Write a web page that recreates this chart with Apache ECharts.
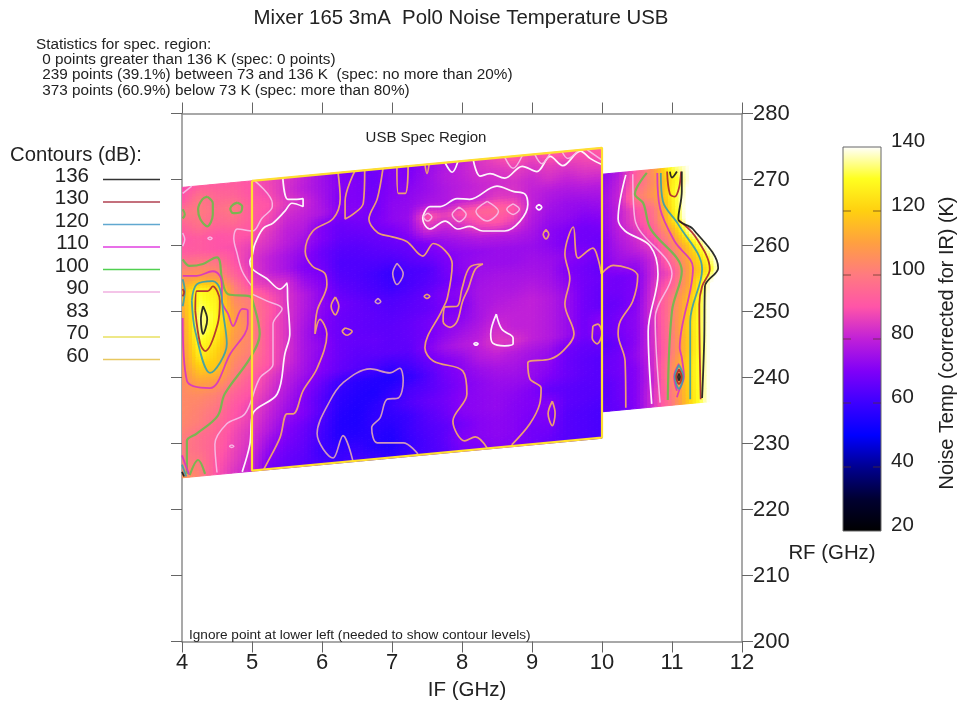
<!DOCTYPE html>
<html><head><meta charset="utf-8"><style>html,body{margin:0;background:#fff}#c{width:961px;height:702px}</style>
<script src="https://cdn.jsdelivr.net/npm/echarts@6/dist/echarts.min.js"></script></head>
<body><div id="c"></div><script>
const FONT='"Liberation Sans",Arial,sans-serif';
const ifLeft=[4,4.25,4.5,4.75,5,5.25,5.5,5.75,6,6.25,6.5,6.75,7,7.25,7.5,7.75,8,8.25,8.5,8.75,9,9.25,9.5,9.75,10];
const loLeft=[264.8,262.8,260.8,258.8,256.8,254.8,252.8,250.8,248.8,246.8,244.8,242.8,240.8,238.8,236.8,234.8,232.8,230.8,228.8,226.8,224.8,222.8,220.8];
const tempLeft=[
[88,92,92,92,90,87,84,80,75,70,69,68,71,69,73,77,80,84,88,92,88,92,92,90,93],
[90,99,95,94,90,88,83,79,75,71,70,67,71,70,74,78,80,83,84,86,84,86,85,87,88],
[99,100,97,100,92,90,85,82,76,70,70,68,71,72,74,77,79,81,82,83,81,83,81,83,83],
[93,98,95,96,92,88,82,80,77,71,71,68,72,73,76,77,80,81,85,84,80,78,77,78,78],
[90,92,90,91,90,85,80,78,70,67,68,69,72,74,91,86,91,94,95,91,80,76,74,74,75],
[92,92,90,89,86,83,79,75,70,66,66,67,68,72,83,80,83,88,90,86,78,74,73,71,72],
[100,101,99,90,84,80,76,72,67,64,64,65,66,67,70,74,76,78,78,78,76,72,70,68,69],
[108,110,106,94,85,80,76,70,68,63,63,63,63,65,67,70,72,73,74,74,74,72,69,68,67],
[116,130,125,102,88,85,83,74,70,64,63,61,59,62,63,68,72,74,74,74,75,74,72,70,68],
[112,132,128,105,100,90,84,78,72,66,64,62,60,62,64,67,70,75,76,76,76,75,70,68,66],
[108,136,129,109,100,92,84,78,72,68,66,64,63,64,66,70,72,76,77,77,78,76,72,68,67],
[106,135,128,110,103,90,84,77,71,67,66,65,64,65,66,69,70,76,78,79,80,78,74,68,66],
[106,130,124,108,102,90,84,76,70,67,66,65,65,66,68,71,72,76,80,80,80,78,74,68,66],
[105,126,120,106,101,90,84,76,72,67,66,66,65,66,68,72,75,78,83,80,80,78,74,68,71],
[105,118,118,103,97,90,83,76,71,67,65,65,65,65,70,75,78,80,85,84,80,78,74,68,71],
[104,110,109,100,92,86,80,75,70,66,64,62,60,62,66,70,73,78,80,78,76,74,68,66,66],
[104,104,102,94,90,84,78,72,66,60,57,56,55,58,63,68,71,74,76,76,74,72,67,65,64],
[104,102,99,91,87,82,76,70,64,58,56,55,58,62,64,67,70,72,74,74,73,70,67,65,64],
[103,101,96,90,86,80,74,70,64,57,55,57,60,63,66,68,71,72,73,72,70,66,65,64,64],
[101,97,94,88,84,78,71,67,62,56,55,58,58,60,64,67,71,72,73,71,70,71,65,64,63],
[100,97,93,87,83,74,69,66,61,56,56,57,56,60,63,65,68,71,72,71,69,70,64,63,62],
[101,100,91,86,81,71,67,65,60,59,59,56,55,59,62,65,70,71,72,71,68,68,64,63,62],
[108,102,90,84,80,68,66,64,62,60,62,60,58,60,62,64,68,69,71,70,68,66,64,63,62]
];
const ifRight=[10,10.25,10.5,10.75,11,11.25,11.5,11.75];
const loRight=[260.8,258.8,256.8,254.8,252.8,250.8,248.8,246.8,244.8,242.8,240.8,238.8,236.8,234.8,232.8,230.8,228.8,226.8,224.8];
const tempRight=[
[72,78,92,108,132,140,150,150],
[73,80,95,106,125,140,150,150],
[74,81,100,108,127,142,150,150],
[73,80,89,99,125,145,150,150],
[72,80,87,97,122,145,150,150],
[71,78,83,92,109,136,150,150],
[71,76,80,85,101,120,140,150],
[70,74,74,82,96,113,130,150],
[69,68,70,82,89,111,123,148],
[68,68,70,84,94,112,136,150],
[66,67,71,85,100,117,138,150],
[66,69,72,85,101,119,138,150],
[66,69,72,84,101,121,138,150],
[64,67,72,84,100,120,138,150],
[66,68,73,83,100,120,138,150],
[66,68,71,83,104,122,138,150],
[64,67,71,82,104,122,138,150],
[64,67,71,84,100,121,138,150],
[65,66,71,84,99,120,138,150]
];
const colorValues=[20,30,40,50,60,70,80,90,100,110,120,130,140];
const colorHex=['#000000','#000030','#000090','#0000ff','#3c00ff','#8000f8','#c020d8','#ff54a8','#ff7a80','#ffa040','#ffd010','#ffff20','#ffffff'];
const xTicks={min:4,max:12,step:1}, rfTicks={min:200,max:280,step:10}, barTicks={min:20,max:140,step:20};
const specRegion=[[5,269.8],[10,274.8],[10,230.9],[5,225.9],[5,269.8]];
const legendLevels=['136','130','120','110','100','90','83','70','60'];
const legendColors=['#333333','#b04050','#60a8d0','#e040e0','#50d050','#f0b0e0',null,'#e8e060','#e8c860'];
const statLines=['Statistics for spec. region:',' 0 points greater than 136 K (spec: 0 points)',' 239 points (39.1%) between 73 and 136 K  (spec: no more than 20%)',' 373 points (60.9%) below 73 K (spec: more than 80%)'];

const contour136=[
[[4.3,250.8],[4.36,248.8],[4.3,246.6],[4.27,248.8],[4.3,250.8]],
[[11.14,271.2],[11.14,268.2],[11.09,264.0],[11.3,262.5],[11.66,256.6],[11.47,253.8],[11.46,245.5],[11.43,236.9]],
[[10.97,271.2],[11.0,270.3],[11.07,271.2]],
[[11.1,240.6],[11.115,240.1],[11.1,239.6],[11.085,240.1],[11.1,240.6]],
[[4.0,225.7],[4.03,225.0]]
];
const contour130=[
[[4.19,250.1],[4.26,245.1],[4.33,244.0],[4.51,248.1],[4.54,251.6],[4.44,253.8],[4.37,253.1],[4.21,253.1],[4.19,250.1]],
[[4.01,253.4],[4.03,252.9],[4.01,252.3]],
[[10.93,271.2],[10.97,267.8],[11.04,267.4],[11.1,268.7],[11.13,271.2]],
[[11.1,263.8],[11.33,261.4],[11.54,256.4],[11.43,253.8],[11.39,251.1],[11.41,236.7]],
[[11.1,241.2],[11.14,240.1],[11.1,239.0],[11.06,240.1],[11.1,241.2]]
];
const contour120=[
[[4.14,251.6],[4.19,247.0],[4.4,240.7],[4.64,245.1],[4.59,249.6],[4.54,253.5],[4.44,254.6],[4.21,254.1],[4.14,251.6]],
[[4.01,254.9],[4.04,253.1],[4.01,250.8]],
[[10.84,271.0],[10.87,266.7],[11.09,263.2],[11.43,256.4],[11.26,248.5],[11.26,236.7]],
[[11.1,241.9],[11.16,240.1],[11.1,238.3],[11.04,240.1],[11.1,241.9]],
[[4.0,226.8],[4.06,225.0]]
];
const contour110=[
[[4.01,249.0],[4.07,239.5],[4.4,238.4],[4.69,243.6],[4.94,248.1],[4.94,250.1],[4.86,250.4],[4.73,247.8],[4.66,249.6],[4.57,251.6],[4.57,253.8],[4.54,255.4],[4.44,256.1],[4.21,255.4],[4.01,255.4]],
[[10.79,271.0],[10.83,265.6],[11.04,260.6],[11.3,256.6],[11.11,244.5],[11.14,243.0],[11.17,240.1],[11.1,238.0],[11.07,237.0]],
[[11.1,242.1],[11.03,240.1],[11.07,238.0]],
[[4.0,228.2],[4.1,225.3]]
];
const contour100=[
[[4.36,267.4],[4.44,266.4],[4.44,264.7],[4.36,262.9],[4.26,264.0],[4.23,265.5],[4.29,267.0],[4.36,267.4]],
[[4.79,266.5],[4.86,265.9],[4.83,265.0],[4.73,264.9],[4.69,265.6],[4.73,266.2],[4.79,266.5]],
[[4.01,265.5],[4.04,264.7],[4.01,264.1]],
[[4.01,257.9],[4.11,256.9],[4.3,257.2],[4.5,258.2],[4.54,257.6],[4.57,255.0],[4.66,252.6],[4.97,252.3],[5.01,251.6],[5.11,246.6],[4.97,242.9],[4.61,237.5],[4.51,234.2],[4.21,231.5],[4.07,230.4],[4.07,225.4]],
[[4.11,225.2],[4.23,227.5],[4.33,225.4]],
[[10.64,271.0],[10.47,267.8],[10.59,266.4],[10.69,262.6],[11.14,256.1],[11.0,250.1],[10.94,236.6]]
];
const contour90=[
[[4.01,261.9],[4.04,260.9],[4.01,259.9]],
[[4.01,267.9],[4.14,269.0]],
[[5.04,269.8],[5.29,266.4],[5.29,265.9],[5.14,264.1],[5.01,262.2],[4.79,262.5],[4.74,261.1],[4.79,258.7],[4.86,256.1],[5.0,253.8]],
[[5.01,252.6],[5.21,251.6],[5.43,250.4],[5.30,248.1],[5.30,242.0],[5.11,239.9],[4.9,234.5],[4.64,233.0],[4.47,229.9],[4.5,225.6]],
[[7.51,264.9],[7.57,264.3],[7.51,263.7],[7.45,264.3],[7.51,264.9]],
[[7.96,265.8],[8.06,264.7],[7.96,263.6],[7.86,264.7],[7.96,265.8]],
[[8.36,266.7],[8.52,265.2],[8.36,263.7],[8.2,265.2],[8.36,266.7]],
[[8.73,266.3],[8.82,265.5],[8.73,264.7],[8.64,265.5],[8.73,266.3]],
[[8.61,273.4],[8.73,271.7],[8.86,273.6]],
[[9.04,273.8],[9.14,272.4],[9.26,274.0]],
[[9.43,274.2],[9.51,273.2],[9.66,274.4]],
[[9.79,274.5],[9.99,273.0]],
[[10.44,270.8],[10.47,264.0],[11.0,255.7],[10.76,249.0],[10.83,236.2]],
[[4.71,229.8],[4.74,229.6],[4.71,229.4],[4.68,229.6],[4.71,229.8]],
[[4.4,261.3],[4.43,261.1],[4.4,260.9],[4.37,261.1],[4.4,261.3]]
];
const contour83=[
[[5.44,270.2],[5.51,267.0],[5.64,267.0],[5.73,267.1],[5.73,265.9],[5.57,266.4],[5.47,265.2],[5.30,263.4],[5.16,262.6],[5.04,260.2],[5.0,258.4],[4.97,257.6],[5.01,256.4],[5.21,255.0],[5.40,253.4],[5.5,254.3],[5.51,251.6],[5.54,246.6],[5.47,243.6],[5.36,237.5],[5.01,234.5],[4.97,229.9],[4.86,225.7]],
[[7.44,264.4],[7.54,265.9],[7.69,265.9],[7.93,267.1],[8.11,267.0],[8.5,269.0],[8.73,268.2],[8.9,267.8],[8.94,266.2],[8.83,263.7],[8.61,262.2],[8.3,262.2],[8.11,262.9],[7.94,262.5],[7.76,263.7],[7.54,262.5],[7.44,264.0],[7.44,264.4]],
[[9.1,266.2],[9.14,265.8],[9.1,265.4],[9.06,265.8],[9.1,266.2]],
[[8.16,273.0],[8.26,270.5],[8.4,270.9],[8.61,270.2],[8.86,272.0],[9.07,271.2],[9.26,273.5],[9.44,272.1],[9.69,274.3],[9.83,273.2],[9.99,272.3]],
[[7.76,272.5],[7.86,271.1],[7.94,272.7]],
[[8.49,249.6],[8.57,247.3],[8.73,246.0],[8.73,245.1],[8.61,244.8],[8.44,245.2],[8.41,246.6],[8.49,249.6]],
[[8.2,245.3],[8.23,245.1],[8.2,244.9],[8.17,245.1],[8.2,245.3]],
[[10.34,270.7],[10.23,264.0],[10.33,262.2],[10.69,259.9],[10.8,255.7],[10.66,247.0],[10.71,236.0]]
];
const contour70=[
[[6.23,271.0],[6.26,267.1],[6.16,264.1],[5.87,262.2],[5.76,259.1],[5.86,256.9],[6.04,255.8],[6.07,254.1],[5.93,250.1],[5.9,246.6],[5.97,248.8],[6.07,246.6],[5.93,241.4],[5.73,238.0],[5.59,234.5],[5.5,234.5],[5.4,230.9],[5.21,226.9],[5.17,226.1]],
[[6.47,271.3],[6.33,266.7],[6.33,264.0],[6.44,264.7],[6.59,266.4],[6.61,271.4]],
[[6.87,271.6],[6.79,267.1],[6.67,264.0],[6.8,261.9],[6.97,261.4],[7.21,260.6],[7.44,258.4],[7.59,260.3],[7.86,257.2],[7.79,252.0],[7.71,250.1],[7.47,244.5],[7.59,242.5],[8.01,241.0],[8.07,237.5],[7.87,233.4],[8.04,230.4],[8.19,231.0],[8.36,229.3]],
[[8.3,257.2],[8.11,256.7],[8.0,253.5],[7.93,250.8],[7.76,250.7],[7.73,248.5],[7.83,247.6],[7.93,248.5],[8.01,251.6],[8.09,253.5],[8.19,256.4],[8.3,257.2]],
[[9.99,255.7],[9.94,258.1],[9.87,259.6],[9.66,258.1],[9.59,262.8],[9.47,258.7],[9.54,255.0],[9.47,251.1],[9.6,246.6],[9.44,244.0],[9.26,242.8],[8.94,242.2],[8.97,239.8],[9.13,238.4],[9.11,236.0],[8.97,233.0],[8.71,229.8]],
[[10.0,255.8],[10.16,257.0],[10.51,255.4],[10.44,251.6],[10.26,248.5],[10.23,246.6],[10.33,242.5],[10.34,235.4]],
[[9.87,247.8],[9.94,248.1],[10.0,246.7],[9.93,245.1],[9.86,246.0],[9.87,247.8]],
[[9.29,236.4],[9.33,234.6],[9.29,232.7],[9.23,234.5],[9.29,236.4]],
[[9.2,262.4],[9.24,261.7],[9.2,261.0],[9.16,261.7],[9.2,262.4]],
[[7.5,252.6],[7.54,252.3],[7.5,252.0],[7.46,252.3],[7.5,252.6]],
[[7.47,272.3],[7.5,270.9],[7.53,272.3]],
[[6.19,252.2],[6.24,250.8],[6.19,249.5],[6.13,250.8],[6.19,252.2]],
[[6.33,247.5],[6.43,247.0],[6.36,246.4],[6.29,247.0],[6.33,247.5]],
[[7.07,271.9],[7.09,267.9],[7.19,267.9],[7.23,272.0]]
];
const contour60=[
[[6.44,227.4],[6.3,231.2],[6.16,227.8],[5.93,231.5],[6.11,236.4],[6.3,239.2],[6.69,241.3],[6.97,240.7],[7.11,241.4],[7.16,239.5],[7.09,236.9],[6.93,236.7],[6.83,233.9],[6.71,232.4],[6.79,230.1],[7.16,230.1],[7.37,228.4]],
[[7.07,257.3],[7.16,255.7],[7.07,254.1],[7.01,255.8],[7.07,257.3]],
[[6.8,252.0],[6.84,251.5],[6.8,251.2],[6.76,251.5],[6.8,252.0]]
];
const contourGroups=[
 [contour60,'#d8a0b8',1.6],[contour70,'#f2a86a',1.7],[contour83,'#ffffff',1.7],[contour90,'#f6bce6',1.5],
 [contour100,'#74b84e',2.2],[contour110,'#d838c0',1.8],[contour120,'#40a0a8',1.8],[contour130,'#b03030',1.8],[contour136,'#222222',1.8]
];

function tempColor(v){
  const lo=colorValues[0],hi=colorValues[colorValues.length-1];
  const t=Math.max(0,Math.min(1,(v-lo)/(hi-lo)));
  return echarts.color.lerp(t,colorHex);
}
function heatSeries(ifs,los,temps){
  const data=[];
  for(let j=0;j<los.length-1;j++)for(let i=0;i<ifs.length-1;i++)data.push([ifs[i],los[j]+ifs[i],temps[j][i],i,j]);
  const N=5;
  return {type:'custom',xAxisIndex:0,yAxisIndex:0,data,silent:true,z:2,animation:false,clip:true,
    encode:{x:0,y:1},
    renderItem(params,api){
      const i=api.value(3),j=api.value(4),kids=[];
      const x0=ifs[i],x1=ifs[i+1],y0=los[j],y1=los[j+1];
      const a=temps[j][i],b=temps[j][i+1],c=temps[j+1][i],d=temps[j+1][i+1];
      const P=(u,v)=>{const f=x0+(x1-x0)*u,l=y0+(y1-y0)*v;return api.coord([f,l+f]);};
      for(let m=0;m<N;m++)for(let n=0;n<N;n++){
        const u=(m+.5)/N,v=(n+.5)/N;
        const val=a*(1-u)*(1-v)+b*u*(1-v)+c*(1-u)*v+d*u*v;
        const col=tempColor(val);
        kids.push({type:'polygon',shape:{points:[P(m/N,n/N),P((m+1)/N,n/N),P((m+1)/N,(n+1)/N),P(m/N,(n+1)/N)]},
          style:{fill:col,stroke:col,lineWidth:1}});
      }
      return {type:'group',children:kids};
    }};
}
const series=[heatSeries(ifLeft,loLeft,tempLeft),heatSeries(ifRight,loRight,tempRight)];
contourGroups.forEach(([lines,color,width])=>lines.forEach(pts=>series.push({
  type:'line',xAxisIndex:0,yAxisIndex:0,data:pts,showSymbol:false,symbol:'none',smooth:0.35,silent:true,z:4,animation:false,
  lineStyle:{color,width,opacity:0.95}})));
series.push({type:'line',xAxisIndex:0,yAxisIndex:0,data:specRegion,showSymbol:false,symbol:'none',silent:true,z:5,animation:false,
  lineStyle:{color:'#ffdf30',width:2.2}});
const barTickValues=[40,60,80,100,120];
series.push({type:'custom',xAxisIndex:2,yAxisIndex:2,data:[[0,20]],silent:true,z:2,animation:false,encode:{x:0,y:1},
  renderItem(params,api){
    const t=api.coord([0,barTicks.max]),b=api.coord([1,barTicks.min]);
    const kids=[{type:'rect',shape:{x:t[0],y:t[1],width:b[0]-t[0],height:b[1]-t[1]},
      style:{fill:new echarts.graphic.LinearGradient(0,1,0,0,colorHex.map((color,i)=>({offset:i/(colorHex.length-1),color}))),stroke:'#666',lineWidth:1}}];
    barTickValues.forEach(v=>{
      const y=api.coord([0,v])[1];
      kids.push({type:'line',shape:{x1:t[0],y1:y,x2:t[0]+8,y2:y},style:{stroke:'#553322',lineWidth:1,opacity:.7}});
      kids.push({type:'line',shape:{x1:b[0]-8,y1:y,x2:b[0],y2:y},style:{stroke:'#553322',lineWidth:1,opacity:.7}});
    });
    return {type:'group',children:kids};
  }});

const txt=(text,x,y,size,extra)=>({type:'text',x,y:y+1,silent:true,z:20,style:Object.assign({text,fill:'#222',font:size+'px '+FONT,textVerticalAlign:'middle',verticalAlign:'middle'},extra||{})});
const graphics=[
  txt('Mixer 165 3mA  Pol0 Noise Temperature USB',461,17,20.4,{align:'center'}),
  txt('USB Spec Region',426,137,15,{align:'center'}),
  txt('Ignore point at lower left (needed to show contour levels)',189,634,13.6),
  txt('Contours (dB):',10,154,20.3),
  txt('IF (GHz)',467,689,20.5,{align:'center'}),
  txt('RF (GHz)',832,552,20.4,{align:'center'}),
  Object.assign(txt('Noise Temp (corrected for IR) (K)',0,0,19.9,{align:'center'}),{x:948,y:343,rotation:Math.PI/2})
];
statLines.forEach((s,i)=>graphics.push(txt(s,i?38:36,[44,59,74,90][i],15.3,{})));
legendLevels.forEach((s,i)=>{
  const yy=175+22.5*i;
  graphics.push(txt(s,89,yy,20.5,{align:'right'}));
  if(legendColors[i])graphics.push({type:'line',silent:true,z:20,shape:{x1:103,y1:yy+4.5,x2:160,y2:yy+4.5},style:{stroke:legendColors[i],lineWidth:1.6}});
});

const axisCommon={axisLine:{show:true,onZero:false,lineStyle:{color:'#8c8c8c',width:1.5}},axisTick:{show:true,length:11,lineStyle:{color:'#666',width:1}},splitLine:{show:false}};
const chart=echarts.init(document.getElementById('c'),null,{renderer:'canvas'});
chart.setOption({
  animation:false,backgroundColor:'#fff',
  grid:[{left:182,top:113.5,width:560,height:528,containLabel:false},{left:843,top:147,width:38,height:384}],
  xAxis:[
    Object.assign({type:'value',gridIndex:0,position:'bottom',min:xTicks.min,max:xTicks.max,interval:xTicks.step,axisLabel:{fontSize:22,color:'#222',fontFamily:FONT,margin:10}},axisCommon),
    Object.assign({type:'value',gridIndex:0,position:'top',min:xTicks.min,max:xTicks.max,interval:xTicks.step,axisLabel:{show:false}},axisCommon),
    {type:'value',gridIndex:1,min:0,max:1,show:false}
  ],
  yAxis:[
    Object.assign({type:'value',gridIndex:0,position:'right',min:rfTicks.min,max:rfTicks.max,interval:rfTicks.step,axisLabel:{fontSize:22,color:'#222',fontFamily:FONT,margin:11}},axisCommon),
    Object.assign({type:'value',gridIndex:0,position:'left',min:rfTicks.min,max:rfTicks.max,interval:rfTicks.step,axisLabel:{show:false}},axisCommon),
    {type:'value',gridIndex:1,position:'right',min:barTicks.min,max:barTicks.max,interval:barTicks.step,
      axisLine:{show:false},axisTick:{show:false},splitLine:{show:false},
      axisLabel:{fontSize:20.5,color:'#222',fontFamily:FONT,margin:10,verticalAlign:'bottom',lineHeight:11}}
  ],
  series,
  graphic:{elements:graphics}
});
</script></body></html>
